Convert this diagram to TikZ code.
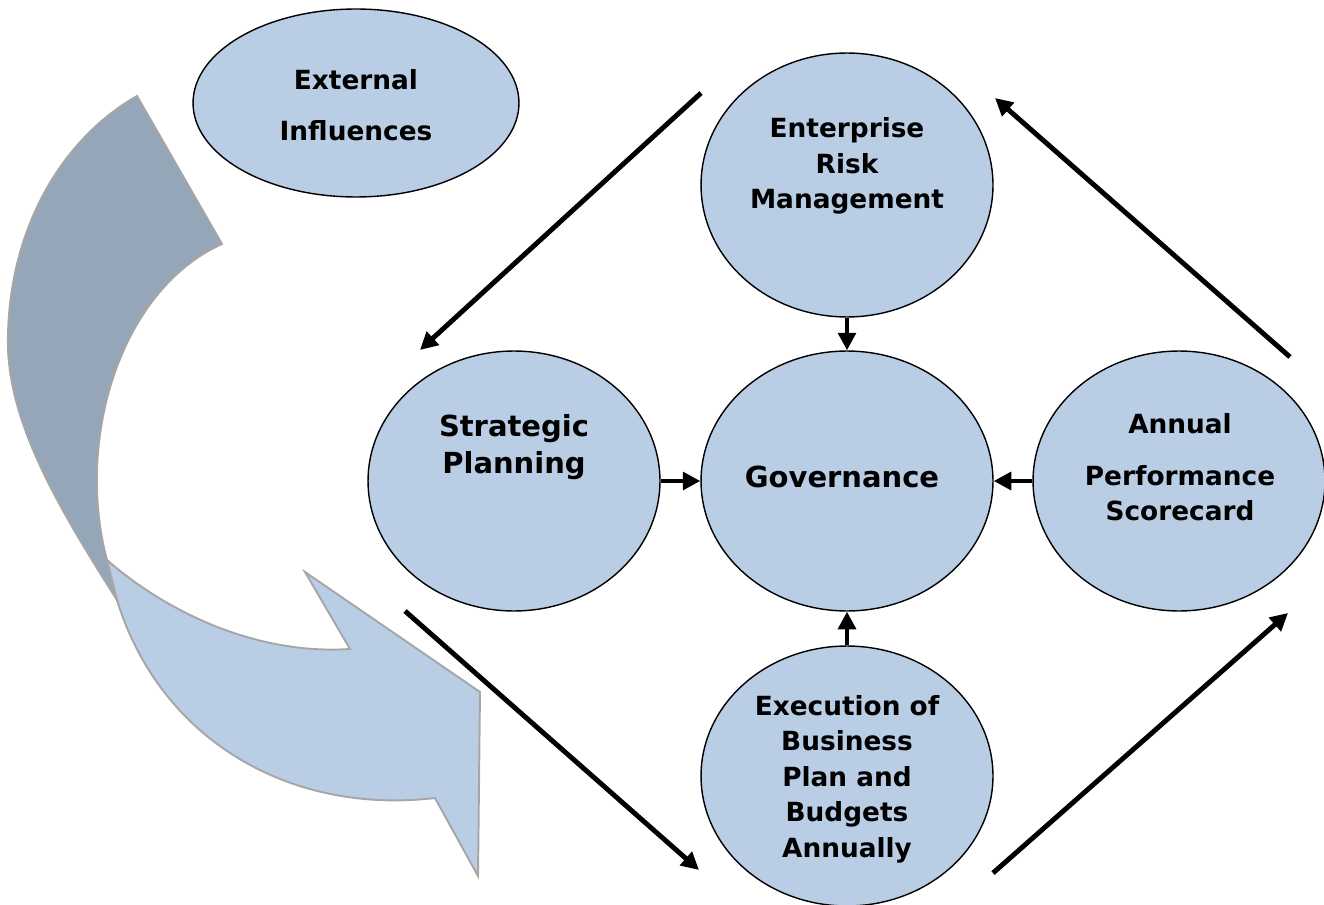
\documentclass[tikz,border=0pt]{standalone}
\usepackage{fontspec}
\setmainfont{DejaVu Sans}
\usetikzlibrary{shapes.geometric,arrows.meta}
\definecolor{bubble}{HTML}{B9CDE5}
\definecolor{darkband}{HTML}{95A6B8}
\definecolor{bandline}{HTML}{A6A6A6}
\begin{document}
\begin{tikzpicture}[x=0.02cm,y=-0.02cm,
  bubble/.style={ellipse, draw=black, line width=0.8pt, fill=bubble, inner sep=0pt,
    minimum width=5.84cm, minimum height=5.2cm},
  lbl/.style={font=\bfseries\fontsize{15}{20.2}\selectfont, align=center, inner sep=0pt},
  biglbl/.style={font=\bfseries\fontsize{16.5}{21}\selectfont, align=center, inner sep=0pt},
  arr/.style={line width=2.8pt, -{Triangle[length=10pt,width=10pt]}},
  band/.style={draw=bandline, line width=1.1pt, line join=miter}]
\useasboundingbox (0,0) rectangle (1324,905);

% curved arrow
\path[band, fill=darkband] (137,96) -- (222,244)
  .. controls (120,290) and (75,440) .. (107,560) -- (117,600)
  .. controls (60,510) and (5,420) .. (8,335)
  .. controls (10,230) and (60,140) .. (137,96) -- cycle;
\path[band, fill=bubble] (107,560)
  .. controls (170,615) and (260,655) .. (350,649)
  -- (305,572) -- (480,692) -- (478,876) -- (435,798)
  .. controls (290,815) and (160,740) .. (117,600) -- cycle;

% bubbles
\node[bubble, minimum width=6.52cm, minimum height=3.76cm] (ext) at (356,103) {};
\node[bubble, minimum height=5.28cm] (erm) at (847,185) {};
\node[bubble] (sp) at (514,481) {};
\node[bubble] (gov) at (847,481) {};
\node[bubble] (aps) at (1179,481) {};
\node[bubble] (exe) at (847,776) {};

% labels
\node[lbl] (extT) at (356,105) {External\\[8.8pt]Influences};
\node[lbl] (ermT) at (847,166) {Enterprise\\Risk\\Management};
\node[biglbl] (spT) at (514,447) {Strategic\\Planning};
\node[biglbl] (govT) at (842,477) {Governance};
\node[lbl] (apsT) at (1180,467) {Annual\\[9.4pt]Performance\\Scorecard};
\node[lbl] (exeT) at (847,779) {Execution of\\Business\\Plan and\\Budgets\\Annually};

% short arrows into governance
\draw[arr] (erm.south) -- (gov.north);
\draw[arr] (exe.north) -- (gov.south);
\draw[arr] (sp.east) -- (gov.west);
\draw[arr] (aps.west) -- (gov.east);

% cycle arrows
\coordinate (a1) at (701,93);   \coordinate (b1) at (420,350);
\coordinate (a2) at (405,611);  \coordinate (b2) at (699,870);
\coordinate (a3) at (993,873);  \coordinate (b3) at (1288,613);
\coordinate (a4) at (1290,357); \coordinate (b4) at (995,98);
\draw[arr] (a1) -- (b1);
\draw[arr] (a2) -- (b2);
\draw[arr] (a3) -- (b3);
\draw[arr] (a4) -- (b4);
\end{tikzpicture}
\end{document}
